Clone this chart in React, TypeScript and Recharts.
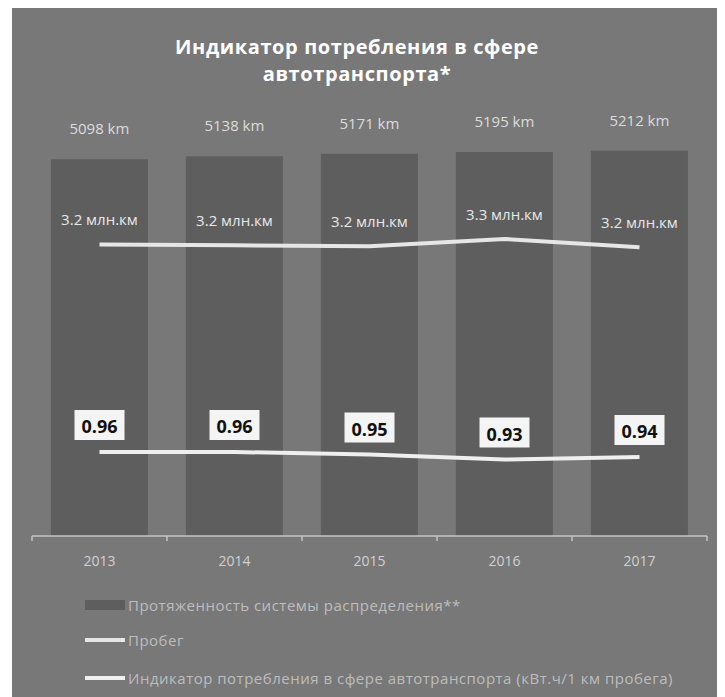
import React from "react";
import { ComposedChart, Bar, Line, XAxis, YAxis, LabelList } from "recharts";

const years = ["2013", "2014", "2015", "2016", "2017"];
const networkKm = [5098, 5138, 5171, 5195, 5212];
const mileageMln = [3.21, 3.2, 3.19, 3.27, 3.18];
const indicator = [0.96, 0.96, 0.95, 0.93, 0.94];

const data = years.map((y, i) => ({
  year: y,
  km: networkKm[i],
  mileage: mileageMln[i],
  ind: indicator[i],
}));

const W = 713;
const H = 689;
const margin = { top: 92, right: 18, bottom: 131, left: 20 };
const halfBand = (W - margin.left - margin.right) / years.length / 2;

const BG = "#787878";
const BAR = "#5e5e5e";
const FONT = "'Open Sans', 'Noto Sans', sans-serif";

const YearTick = (props: any) => {
  const { x, y, payload, index } = props;
  return (
    <g>
      <line x1={x - halfBand} x2={x - halfBand} y1={y} y2={y + 5} stroke="#c4c4c4" strokeWidth={1.5} />
      {index === years.length - 1 && (
        <line x1={x + halfBand} x2={x + halfBand} y1={y} y2={y + 5} stroke="#c4c4c4" strokeWidth={1.5} />
      )}
      <text x={x} y={y + 24} textAnchor="middle" dominantBaseline="central" fill="#d0d0d0" fontSize={14} fontFamily={FONT}>
        {payload.value}
      </text>
    </g>
  );
};

const IndicatorBox = (props: any) => {
  const { x, y, value } = props;
  const cy = y - 27;
  return (
    <g>
      <rect x={x - 25} y={cy - 15} width={50} height={30} fill="#f4f4f4" />
      <text x={x} y={cy + 1} textAnchor="middle" dominantBaseline="central" fill="#111" fontSize={18} fontWeight="bold" fontFamily={FONT}>
        {Number(value).toFixed(2)}
      </text>
    </g>
  );
};

export default function App() {
  return (
    <div style={{ position: "relative", width: W, height: H, background: BG, marginLeft: 4, fontFamily: FONT }}>
      <div
        style={{
          position: "absolute",
          left: 0,
          top: 25,
          width: 690,
          textAlign: "center",
          color: "#ffffff",
          fontSize: 20,
          fontWeight: "bold",
          lineHeight: "27px",
          letterSpacing: 0.6,
        }}
      >
        Индикатор потребления в сфере
        <br />
        автотранспорта*
      </div>
      <ComposedChart width={W} height={H} data={data} margin={margin} barCategoryGap="14%">
        <XAxis
          dataKey="year"
          height={30}
          axisLine={{ stroke: "#c4c4c4", strokeWidth: 1.5 }}
          tickLine={false}
          tickSize={0}
          tickMargin={0}
          tick={<YearTick />}
          interval={0}
        />
        <YAxis yAxisId="km" hide domain={[0, 5900]} />
        <YAxis yAxisId="mil" hide domain={[0, 4.8]} />
        <YAxis yAxisId="ind" hide domain={[0.624, 2.368]} />
        <Bar yAxisId="km" dataKey="km" fill={BAR} isAnimationActive={false}>
          <LabelList
            dataKey="km"
            position="top"
            offset={25}
            fill="#dcdcdc"
            fontSize={15}
            fontFamily={FONT}
            formatter={(v: any) => `${v} km`}
          />
        </Bar>
        <Line
          yAxisId="mil"
          dataKey="mileage"
          stroke="#e6e6e6"
          strokeWidth={4}
          dot={false}
          activeDot={false}
          isAnimationActive={false}
        >
          <LabelList
            dataKey="mileage"
            position="top"
            offset={19}
            fill="#e8e8e8"
            fontSize={15}
            fontFamily={FONT}
            formatter={(v: any) => `${Number(v).toFixed(1)} млн.км`}
          />
        </Line>
        <Line
          yAxisId="ind"
          dataKey="ind"
          stroke="#efefef"
          strokeWidth={4}
          dot={false}
          activeDot={false}
          isAnimationActive={false}
        >
          <LabelList dataKey="ind" content={<IndicatorBox />} />
        </Line>
      </ComposedChart>
      <div
        style={{
          position: "absolute",
          left: 73,
          top: 587,
          color: "#bdbdbd",
          fontSize: 15,
          letterSpacing: 0.5,
          lineHeight: "20px",
        }}
      >
        <div style={{ display: "flex", alignItems: "center", height: 20 }}>
          <span style={{ display: "inline-block", width: 40, height: 10, background: BAR, marginRight: 3 }} />
          Протяженность системы распределения**
        </div>
        <div style={{ display: "flex", alignItems: "center", height: 20, marginTop: 15 }}>
          <span style={{ display: "inline-block", width: 40, height: 4, background: "#e6e6e6", marginRight: 3 }} />
          Пробег
        </div>
        <div style={{ display: "flex", alignItems: "center", height: 20, marginTop: 18 }}>
          <span style={{ display: "inline-block", width: 40, height: 4, background: "#efefef", marginRight: 3 }} />
          Индикатор потребления в сфере автотранспорта (кВт.ч/1 км пробега)
        </div>
      </div>
    </div>
  );
}
